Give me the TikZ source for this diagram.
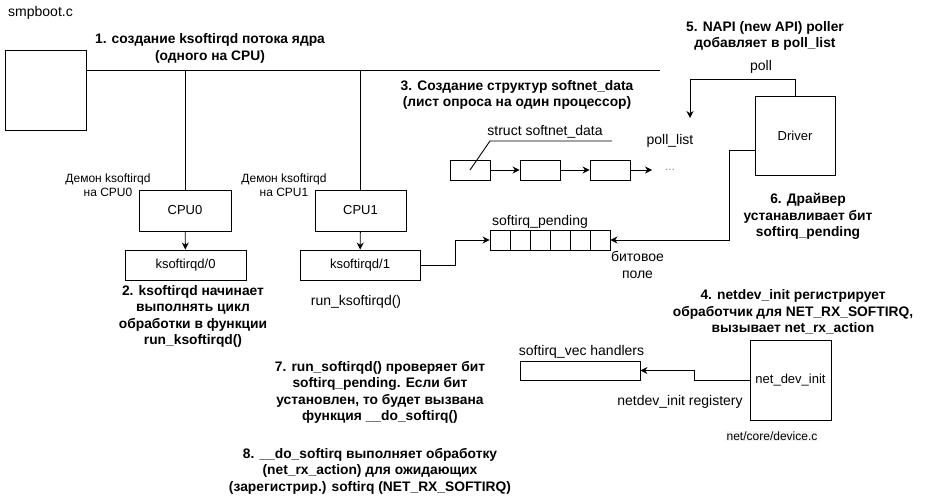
\documentclass[tikz,border=0pt]{standalone}
\usepackage{fontspec}
\setmainfont{Liberation Sans}
\usetikzlibrary{arrows.meta,positioning}
\tikzset{
  box/.style={draw, line width=0.9pt, inner sep=0pt, font=\fontsize{13}{15}\selectfont},
  lbl/.style={inner sep=0pt, align=center, font=\fontsize{14}{16.5}\selectfont},
  small/.style={inner sep=0pt, align=center, font=\fontsize{12}{14}\selectfont},
  note/.style={inner sep=0pt, align=center, font=\fontsize{13.8}{16.4}\selectfont\bfseries},
  link/.style={line width=0.9pt},
  arr/.style={line width=0.9pt, -{Stealth[length=7pt,width=7pt]}}
}
\begin{document}
\begin{tikzpicture}[x=1pt,y=-1pt]

  \useasboundingbox (0,0) rectangle (931,501);

  % Boxes.
  \node[box, minimum width=81pt, minimum height=80pt] (smp) at (45.5,90) {};
  \node[box, minimum width=92pt, minimum height=41pt] (cpu0) at (185,210.5) {CPU0};
  \node[box, minimum width=91pt, minimum height=41pt] (cpu1) at (360.5,210.5) {CPU1};
  \node[box, minimum width=121pt, minimum height=30pt] (ks0) at (185.5,265) {ksoftirqd/0};
  \node[box, minimum width=120pt, minimum height=30pt] (ks1) at (360,265) {ksoftirqd/1};
  \node[box, minimum width=80pt, minimum height=79pt] (driver) at (795,135.5) {Driver};
  \node[box, minimum width=81pt, minimum height=80pt] (netinit) at (790.5,380) {net\_dev\_init};
  \node[box, minimum width=120pt, minimum height=19pt] (vec) at (580,370.5) {};

  % softnet_data list and the bit field.
  \foreach \i in {1,2,3}
    \node[box, minimum width=40pt, minimum height=20pt] (sd\i) at ({400+70*\i},170) {};
  \foreach \i in {0,...,5}
    \node[box, minimum width=20pt, minimum height=20pt] (p\i) at ({500+20*\i},240) {};

  % Labels.
  \node[lbl] (smpname) at (40.5,13) {smpboot.c};
  \node[note] (n1) at (210,48.5) {1. создание ksoftirqd потока ядра\\(одного на CPU)};
  \node[note] (n3) at (517,95) {3. Создание структур softnet\_data\\(лист опроса на один процессор)};
  \node[note] (n5) at (765,36) {5. NAPI (new API) poller\\добавляет в poll\_list};
  \node[lbl] (pollname) at (761,67) {poll};
  \node[lbl] (listname) at (670,141) {poll\_list};
  \node[lbl] (sdname) at (545,132) {struct softnet\_data};
  \node[small, text=black!45] (dots) at (670,170) {...};
  \node[small] (d0) at (108,185) {Демон ksoftirqd\\на CPU0};
  \node[small] (d1) at (284,185) {Демон ksoftirqd\\на CPU1};
  \node[note] (n6) at (808,216.5) {6. Драйвер\\устанавливает бит\\softirq\_pending};
  \node[lbl] (pendname) at (540,222) {softirq\_pending};
  \node[lbl] (bitname) at (637.5,265) {битовое\\поле};
  \node[note] (n2) at (193,316.5) {2. ksoftirqd начинает\\выполнять цикл\\обработки в функции\\run\_ksoftirqd()};
  \node[lbl] (runname) at (356,302) {run\_ksoftirqd()};
  \node[note] (n4) at (793,312) {4. netdev\_init регистрирует\\обработчик для NET\_RX\_SOFTIRQ,\\вызывает net\_rx\_action};
  \node[lbl] (vecname) at (581.5,352) {softirq\_vec handlers};
  \node[note] (n7) at (380,392.5) {7. run\_softirqd() проверяет бит\\softirq\_pending. Если бит\\установлен, то будет вызвана\\функция \_\_do\_softirq()};
  \node[lbl] (regname) at (680,402) {netdev\_init registery};
  \node[small, fill=black!4, inner sep=1pt] (devname) at (772,436) {net/core/device.c};
  \node[note] (n8) at (370,471) {8. \_\_do\_softirq выполняет обработку\\(net\_rx\_action) для ожидающих\\(зарегистрир.) softirq (NET\_RX\_SOFTIRQ)};

  % Thread bus from smpboot.c to the CPUs.
  \coordinate (bus) at (660,70);
  \draw[link] (smp.north east |- bus) -- (bus);
  \draw[link] (cpu0.north |- bus) -- (cpu0.north);
  \draw[link] (cpu1.north |- bus) -- (cpu1.north);
  \draw[arr] (cpu0) -- (ks0);
  \draw[arr] (cpu1) -- (ks1);

  % Poll list.
  \coordinate (pollend) at (690,118);
  \coordinate (more) at (652,170);
  \draw[arr] (driver.north) -- ++(0,-16) -| (pollend);
  \draw[arr] (sd1) -- (sd2);
  \draw[arr] (sd2) -- (sd3);
  \draw[arr] (sd3) -- (more);
  \coordinate (sdkink) at (490,141);
  \draw[link] (sd1.center) -- (sdkink) -- ++(122,0);

  % Setting the pending bit.
  \draw[arr] (ks1.east) -- ++(35,0) |- (p0.west);
  \draw[arr] ([yshift=-14.5pt]driver.west) -- ++(-25,0) |- (p5.east);

  % Handler registration.
  \draw[arr] (netinit.west) -- ++(-55,0) |- (vec.east);

\end{tikzpicture}
\end{document}
